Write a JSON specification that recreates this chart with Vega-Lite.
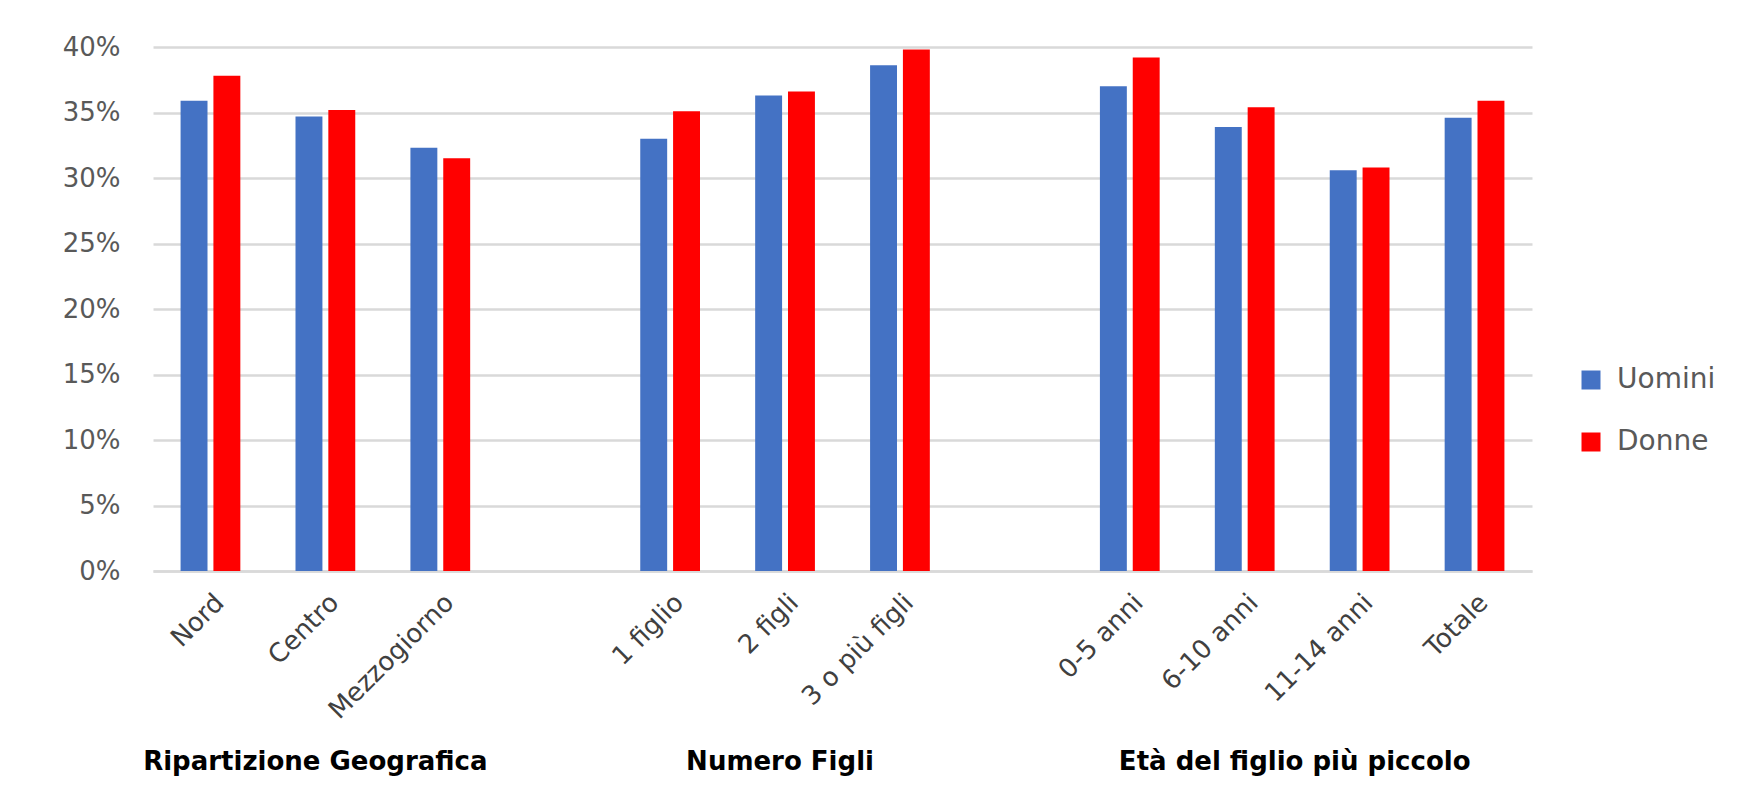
{
  "$schema": "https://vega.github.io/schema/vega-lite/v6.json",
  "autosize": "none",
  "width": 1379,
  "height": 524,
  "padding": {"left": 153, "top": 47, "right": 220, "bottom": 241},
  "background": "white",
  "config": {
    "view": {"stroke": null},
    "font": "DejaVu Sans"
  },
  "data": {
    "values": [
      {"cat": "Nord", "sesso": "Uomini", "v": 0.359},
      {"cat": "Nord", "sesso": "Donne", "v": 0.378},
      {"cat": "Centro", "sesso": "Uomini", "v": 0.347},
      {"cat": "Centro", "sesso": "Donne", "v": 0.352},
      {"cat": "Mezzogiorno", "sesso": "Uomini", "v": 0.323},
      {"cat": "Mezzogiorno", "sesso": "Donne", "v": 0.315},
      {"cat": "1 figlio", "sesso": "Uomini", "v": 0.330},
      {"cat": "1 figlio", "sesso": "Donne", "v": 0.351},
      {"cat": "2 figli", "sesso": "Uomini", "v": 0.363},
      {"cat": "2 figli", "sesso": "Donne", "v": 0.366},
      {"cat": "3 o più figli", "sesso": "Uomini", "v": 0.386},
      {"cat": "3 o più figli", "sesso": "Donne", "v": 0.398},
      {"cat": "0-5 anni", "sesso": "Uomini", "v": 0.370},
      {"cat": "0-5 anni", "sesso": "Donne", "v": 0.392},
      {"cat": "6-10 anni", "sesso": "Uomini", "v": 0.339},
      {"cat": "6-10 anni", "sesso": "Donne", "v": 0.354},
      {"cat": "11-14 anni", "sesso": "Uomini", "v": 0.306},
      {"cat": "11-14 anni", "sesso": "Donne", "v": 0.308},
      {"cat": "Totale", "sesso": "Uomini", "v": 0.346},
      {"cat": "Totale", "sesso": "Donne", "v": 0.359}
    ]
  },
  "resolve": {"axis": {"x": "independent"}},
  "layer": [
    {
      "mark": {"type": "bar"},
      "encoding": {
        "x": {
          "field": "cat",
          "type": "nominal",
          "sort": null,
          "scale": {
            "domain": ["Nord", "Centro", "Mezzogiorno", " ", "1 figlio", "2 figli", "3 o più figli", "  ", "0-5 anni", "6-10 anni", "11-14 anni", "Totale"],
            "paddingInner": 0.48,
            "paddingOuter": 0.24
          },
          "axis": {
            "title": null,
            "labelAngle": -45,
            "labelFont": "DejaVu Sans",
            "labelFontSize": 26,
            "labelColor": "#404040",
            "labelPadding": 18,
            "ticks": false,
            "domainColor": "#d9d9d9",
            "domainWidth": 2.5,
            "labelOverlap": false,
            "labelLimit": 0
          }
        },
        "xOffset": {
          "field": "sesso",
          "type": "nominal",
          "scale": {"domain": ["Uomini", "Donne"], "paddingInner": 0.18, "paddingOuter": 0}
        },
        "y": {
          "field": "v",
          "type": "quantitative",
          "scale": {"domain": [0, 0.4], "nice": false},
          "axis": {
            "title": null,
            "format": ".0%",
            "values": [0, 0.05, 0.1, 0.15, 0.2, 0.25, 0.3, 0.35, 0.4],
            "domain": false,
            "ticks": false,
            "labelFont": "DejaVu Sans",
            "labelFontSize": 26,
            "labelColor": "#595959",
            "labelPadding": 33,
            "gridColor": "#d9d9d9",
            "gridWidth": 2.5
          }
        },
        "color": {
          "field": "sesso",
          "type": "nominal",
          "scale": {"domain": ["Uomini", "Donne"], "range": ["#4472C4", "#FF0000"]},
          "legend": {
            "title": null,
            "orient": "none",
            "legendX": 1424,
            "legendY": 319,
            "symbolType": "square",
            "symbolSize": 361,
            "symbolStrokeWidth": 0,
            "labelFont": "DejaVu Sans",
            "labelFontSize": 28,
            "labelColor": "#595959",
            "labelOffset": 12,
            "rowPadding": 34,
            "padding": 0
          }
        }
      }
    },
    {
      "mark": {"type": "bar", "opacity": 0},
      "encoding": {
        "x": {
          "field": "cat",
          "type": "nominal",
          "sort": null,
          "axis": {
            "title": null,
            "orient": "bottom",
            "offset": 177,
            "labelAngle": 0,
            "labelAlign": "center",
            "labelBaseline": "top",
            "labelPadding": 0,
            "ticks": false,
            "domain": false,
            "grid": false,
            "labelFont": "DejaVu Sans",
            "labelFontSize": 26,
            "labelFontWeight": "bold",
            "labelColor": "#000000",
            "labelOverlap": false,
            "labelBound": false,
            "labelFlush": false,
            "labelLimit": 0,
            "labelExpr": "datum.value == 'Centro' ? 'Ripartizione Geografica' : datum.value == '2 figli' ? 'Numero Figli' : datum.value == '6-10 anni' ? 'Età del figlio più piccolo' : ''",
            "labelOffset": {
              "condition": [
                {"test": "datum.value == '6-10 anni'", "value": 50},
                {"test": "datum.value == 'Centro'", "value": -10},
                {"test": "datum.value == '2 figli'", "value": -5}
              ],
              "value": 0
            }
          }
        },
        "y": {"field": "v", "type": "quantitative"}
      }
    }
  ]
}
